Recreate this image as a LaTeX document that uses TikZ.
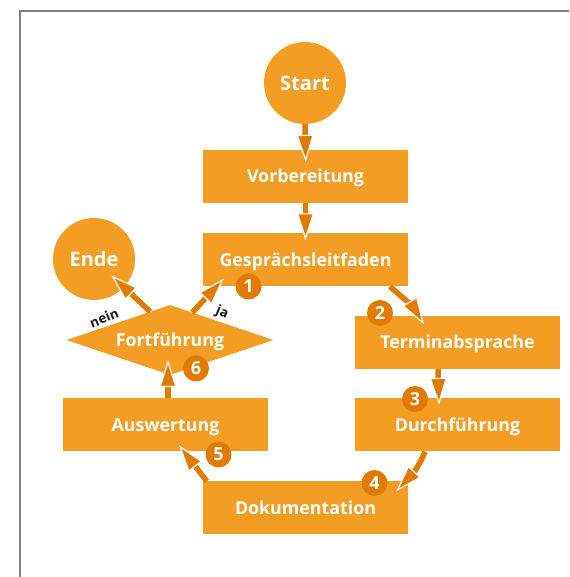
\documentclass[tikz,border=0pt]{standalone}
\usepackage{fontspec}
\setmainfont{Open Sans}
\usetikzlibrary{arrows.meta,shapes.geometric}
\definecolor{boxor}{RGB}{243,157,36}
\definecolor{darkor}{RGB}{224,122,0}
\definecolor{framegray}{RGB}{128,128,128}
\tikzset{
  procbox/.style={fill=boxor, minimum width=205pt, minimum height=53pt, inner sep=0pt,
    text=white, text height=12.8pt, text depth=0pt, font=\bfseries\fontsize{17.8}{21}\selectfont},
  endpoint/.style={circle, fill=boxor, minimum size=82pt, inner sep=0pt,
    text=white, text height=14.3pt, text depth=0pt, font=\bfseries\fontsize{20}{24}\selectfont},
  decision/.style={diamond, aspect=3, fill=boxor, minimum width=207pt, minimum height=70pt, inner sep=0pt,
    text=white, text height=12.8pt, text depth=0pt, font=\bfseries\fontsize{17.8}{21}\selectfont},
  badge/.style={circle, fill=darkor, minimum size=26pt, inner sep=0pt,
    text=white, text height=12.9pt, text depth=0pt, font=\bfseries\fontsize{18}{20}\selectfont},
  flowarrow/.style={draw=darkor, line width=5.5pt,
    -{Triangle[length=27pt,width=17pt,fill=darkor,color=white,line width=1.2pt]}},
  answer/.style={inner sep=0pt, text=black!90, font=\bfseries\fontsize{13.5}{15}\selectfont}
}
\begin{document}
\begin{tikzpicture}[x=1pt,y=1pt]
\useasboundingbox (0,0) rectangle (569,577);
% frame
\draw[framegray, line width=2pt] (20,0) -- (20,566) -- (569,566);
% nodes
\node[endpoint] (start) at (305,494) {Start};
\node[procbox] (vorb) at (305.5,400.5) {Vorbereitung};
\node[procbox] (gl) at (305.5,317) {Gesprächsleitfaden};
\node[procbox] (termin) at (457.5,234.5) {Terminabsprache};
\node[procbox] (durch) at (457.5,152) {Durchführung};
\node[procbox] (doku) at (305.5,69) {Dokumentation};
\node[procbox] (ausw) at (165.5,152) {Auswertung};
\node[decision] (fort) at (170,237) {Fortführung};
\node[endpoint] (ende) at (94,318) {Ende};
% connectors
\draw[flowarrow, shorten >=-12pt] (start.south) -- (vorb.north);
\draw[flowarrow, shorten >=-7pt] (vorb.south) -- (gl.north);
\draw[flowarrow] ([xshift=84.5pt]gl.south) to[out=-40,in=122] ([xshift=-33.5pt,yshift=-8.5pt]termin.north);
\draw[flowarrow] ([xshift=-19.5pt]termin.south) -- ([xshift=-18.5pt,yshift=-6.5pt]durch.north);
\draw[flowarrow] ([xshift=-32.5pt]durch.south) to[out=-112,in=47] ([xshift=-12pt,yshift=-10pt]doku.north east);
\draw[flowarrow] ([xshift=4pt]doku.north west) -- ([xshift=13.5pt,yshift=6.5pt]ausw.south);
\draw[flowarrow] ([xshift=2.5pt]ausw.north) -- ([xshift=-2pt,yshift=15pt]fort.south);
\draw[flowarrow, shorten >=24pt] (fort.125) -- (ende.center);
\draw[flowarrow] (fort.51) -- ([xshift=21pt,yshift=8pt]gl.south west);
% answer labels
\node[answer, rotate=22] (nein) at (104,259) {nein};
\node[answer, rotate=-22] (ja) at (222,264) {ja};
% badges
\node[badge] (b1) at (248.5,290.5) {1};
\node[badge] (b2) at (380,264) {2};
\node[badge] (b3) at (415,178) {3};
\node[badge] (b4) at (374.5,94) {4};
\node[badge] (b5) at (218.5,122.5) {5};
\node[badge] (b6) at (196,208.5) {6};
\end{tikzpicture}
\end{document}
